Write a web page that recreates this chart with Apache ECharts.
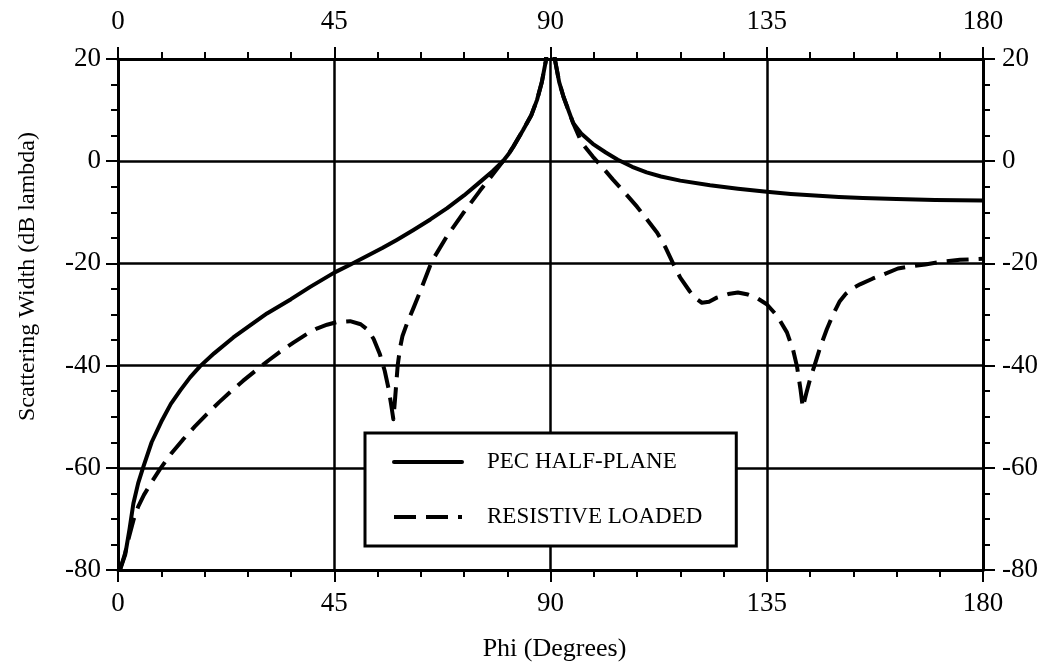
<!DOCTYPE html>
<html>
<head>
<meta charset="utf-8">
<script src="https://cdn.jsdelivr.net/npm/echarts@6.0.0/dist/echarts.min.js"></script>
<style>
  html, body { margin: 0; padding: 0; background: #fff; }
  #chart { width: 1045px; height: 667px; }
</style>
</head>
<body>
<div id="chart"></div>
<script>
// Axis ticks
const phiTicks = [0, 45, 90, 135, 180];
const dbTicks = [-80, -60, -40, -20, 0, 20];

// PEC half-plane: scattering width (dB lambda) vs phi (degrees)
const pecPhi = [0.4, 1.5, 2.4, 3.2, 4.2, 5.2, 7, 9, 11, 13, 15, 17.1, 20, 24, 28, 31, 36, 40, 45, 48.4,
  55, 58, 61.4, 65, 68.5, 72, 75.3, 78, 80.1, 81.2, 82.3, 84.3, 86, 87.2, 88.2, 89, 89.8,
  90.2, 91, 91.8, 92.7, 94.7, 96.5, 98.8, 101.5, 104, 107, 110, 113, 117, 123.2, 129, 135, 140, 145,
  150, 155, 162, 170, 180];
const pecDb = [-80, -77, -72, -67, -63, -60, -55, -51, -47.5, -44.8, -42.3, -40.1, -37.6, -34.5, -31.8, -29.8, -27, -24.6, -21.8, -20.2,
  -17, -15.4, -13.5, -11.4, -9.2, -6.7, -4.1, -1.9, 0, 1.3, 2.9, 6.1, 9, 12, 15.5, 19.5, 26,
  26, 19.5, 15.5, 12.6, 7.5, 5.3, 3.4, 1.7, 0.3, -1.1, -2.2, -3, -3.8, -4.7, -5.4, -6, -6.4, -6.7,
  -7, -7.2, -7.4, -7.6, -7.7];

// Resistive loaded half-plane
const resPhi = [0.4, 1.4, 2.3, 3.2, 4.2, 5.4, 7, 8.7, 11, 13.5, 16, 18.5, 21, 23.3, 26, 28.9, 31.3, 33.7, 36.5, 39.3,
  41.5, 43.5, 45.5, 48.3, 50.5, 52, 53.2, 54.5, 55.5, 56.3, 56.9, 57.3, 57.7, 58.2, 58.7, 59.2, 60.2, 61.5, 62.8,
  65.3, 68.5, 71.8, 75.3, 77.4, 80.1, 81.2, 82.3, 84.3, 86, 87.2, 88.2, 89, 89.8,
  90.2, 91, 91.8, 92.7, 94.7, 96.5, 98.8, 101, 103, 105.5, 108, 110, 112.2, 114, 115.5, 117, 119, 120.3,
  121.5, 123, 124.6, 127, 129, 131.1, 133, 135, 137.2, 139.2, 140.5, 141.3, 142, 142.5, 143.2, 144, 145,
  146.2, 147.5, 148.8, 150.2, 151.5, 153, 154.4, 157, 159.2, 162.3, 164.2, 168, 172, 175.2, 180];
const resDb = [-80, -77, -73.5, -70.3, -67.6, -65.3, -62.8, -60.3, -57.3, -54.5, -51.9, -49.5, -47.2, -45.2, -43, -40.8, -39, -37.3, -35.5, -33.8,
  -32.7, -32, -31.5, -31.3, -31.9, -33, -34.8, -37.8, -41, -44.5, -48, -50.5, -46, -40, -36.5, -34.2, -31.6, -28.7, -25.7,
  -19.6, -14.6, -10.2, -5.8, -3.3, 0, 1.3, 2.9, 6.1, 9, 12, 15.5, 19.5, 26,
  26, 19.5, 15.5, 12.6, 7.5, 3.6, 0.9, -1.4, -3.6, -6.2, -8.9, -11.3, -14, -17, -20, -22.8, -25.5, -26.9,
  -27.7, -27.5, -26.7, -26, -25.7, -26.1, -26.8, -28, -30.3, -33.5, -37, -40.2, -44.5, -48.2, -45.5, -42.7, -39.8,
  -36.2, -32.9, -30, -27.4, -25.9, -24.8, -24.1, -23, -22.2, -21, -20.7, -20.2, -19.6, -19.3, -19.1];

const FONT = '"Liberation Serif", "Times New Roman", Times, serif';
const INK = '#000';

function pairs(xs, ys) {
  return xs.map((x, i) => [x, ys[i]]);
}

function phiAxis(position, margin, grid) {
  return {
    type: 'value',
    position: position,
    min: phiTicks[0],
    max: phiTicks[phiTicks.length - 1],
    interval: phiTicks[1] - phiTicks[0],
    axisLine: { show: true, onZero: false, lineStyle: { color: INK, width: 3 } },
    axisTick: { show: true, length: 12, lineStyle: { color: INK, width: 2 } },
    minorTick: { show: true, splitNumber: 5, length: 7, lineStyle: { color: INK, width: 2 } },
    axisLabel: { show: true, margin: margin, color: INK, fontFamily: FONT, fontSize: 27 },
    splitLine: { show: grid, lineStyle: { color: INK, width: 2.5 } },
    minorSplitLine: { show: false }
  };
}

function dbAxis(position, margin, grid) {
  return {
    type: 'value',
    position: position,
    min: dbTicks[0],
    max: dbTicks[dbTicks.length - 1],
    interval: dbTicks[1] - dbTicks[0],
    axisLine: { show: true, onZero: false, lineStyle: { color: INK, width: 3 } },
    axisTick: { show: true, length: 12, lineStyle: { color: INK, width: 2 } },
    minorTick: { show: true, splitNumber: 4, length: 7, lineStyle: { color: INK, width: 2 } },
    axisLabel: { show: true, margin: margin, color: INK, fontFamily: FONT, fontSize: 27 },
    splitLine: { show: grid, lineStyle: { color: INK, width: 2.5 } },
    minorSplitLine: { show: false }
  };
}

const bottomAxis = phiAxis('bottom', 20, true);
bottomAxis.name = 'Phi (Degrees)';
bottomAxis.nameLocation = 'middle';
bottomAxis.nameGap = 66;
bottomAxis.nameTextStyle = { color: INK, fontFamily: FONT, fontSize: 26, padding: [0, 0, 0, 8] };

const leftAxis = dbAxis('left', 17, true);
leftAxis.name = 'Scattering Width (dB lambda)';
leftAxis.nameLocation = 'middle';
leftAxis.nameRotate = 90;
leftAxis.nameGap = 78;
leftAxis.nameTextStyle = { color: INK, fontFamily: FONT, fontSize: 24, padding: [0, 0, 0, 76] };

const chart = echarts.init(document.getElementById('chart'), null, { renderer: 'canvas' });

chart.setOption({
  backgroundColor: '#fff',
  animation: false,
  grid: { left: 118, right: 62, top: 59, bottom: 96, containLabel: false },
  xAxis: [bottomAxis, phiAxis('top', 24, false)],
  yAxis: [leftAxis, dbAxis('right', 19, false)],
  legend: {
    orient: 'vertical',
    left: 365,
    top: 433,
    padding: [16, 34, 16, 27],
    itemGap: 29,
    itemWidth: 68,
    itemHeight: 14,
    borderColor: INK,
    borderWidth: 3,
    borderRadius: 0,
    backgroundColor: '#fff',
    itemStyle: { opacity: 0 },
    lineStyle: { width: 4, color: INK },
    textStyle: { color: INK, fontFamily: FONT, fontSize: 23, lineHeight: 26, padding: [0, 0, 0, 20] },
    data: ['PEC HALF-PLANE', 'RESISTIVE LOADED']
  },
  series: [
    {
      name: 'PEC HALF-PLANE',
      type: 'line',
      xAxisIndex: 0,
      yAxisIndex: 0,
      data: pairs(pecPhi, pecDb),
      symbol: 'none',
      showSymbol: false,
      smooth: false,
      clip: true,
      lineStyle: { color: INK, width: 4, type: 'solid', join: 'round', cap: 'round' },
      itemStyle: { color: INK }
    },
    {
      name: 'RESISTIVE LOADED',
      type: 'line',
      xAxisIndex: 0,
      yAxisIndex: 0,
      data: pairs(resPhi, resDb),
      symbol: 'none',
      showSymbol: false,
      smooth: false,
      clip: true,
      lineStyle: { color: INK, width: 4, type: [22, 10], join: 'round' },
      itemStyle: { color: INK }
    }
  ]
});
</script>
</body>
</html>
